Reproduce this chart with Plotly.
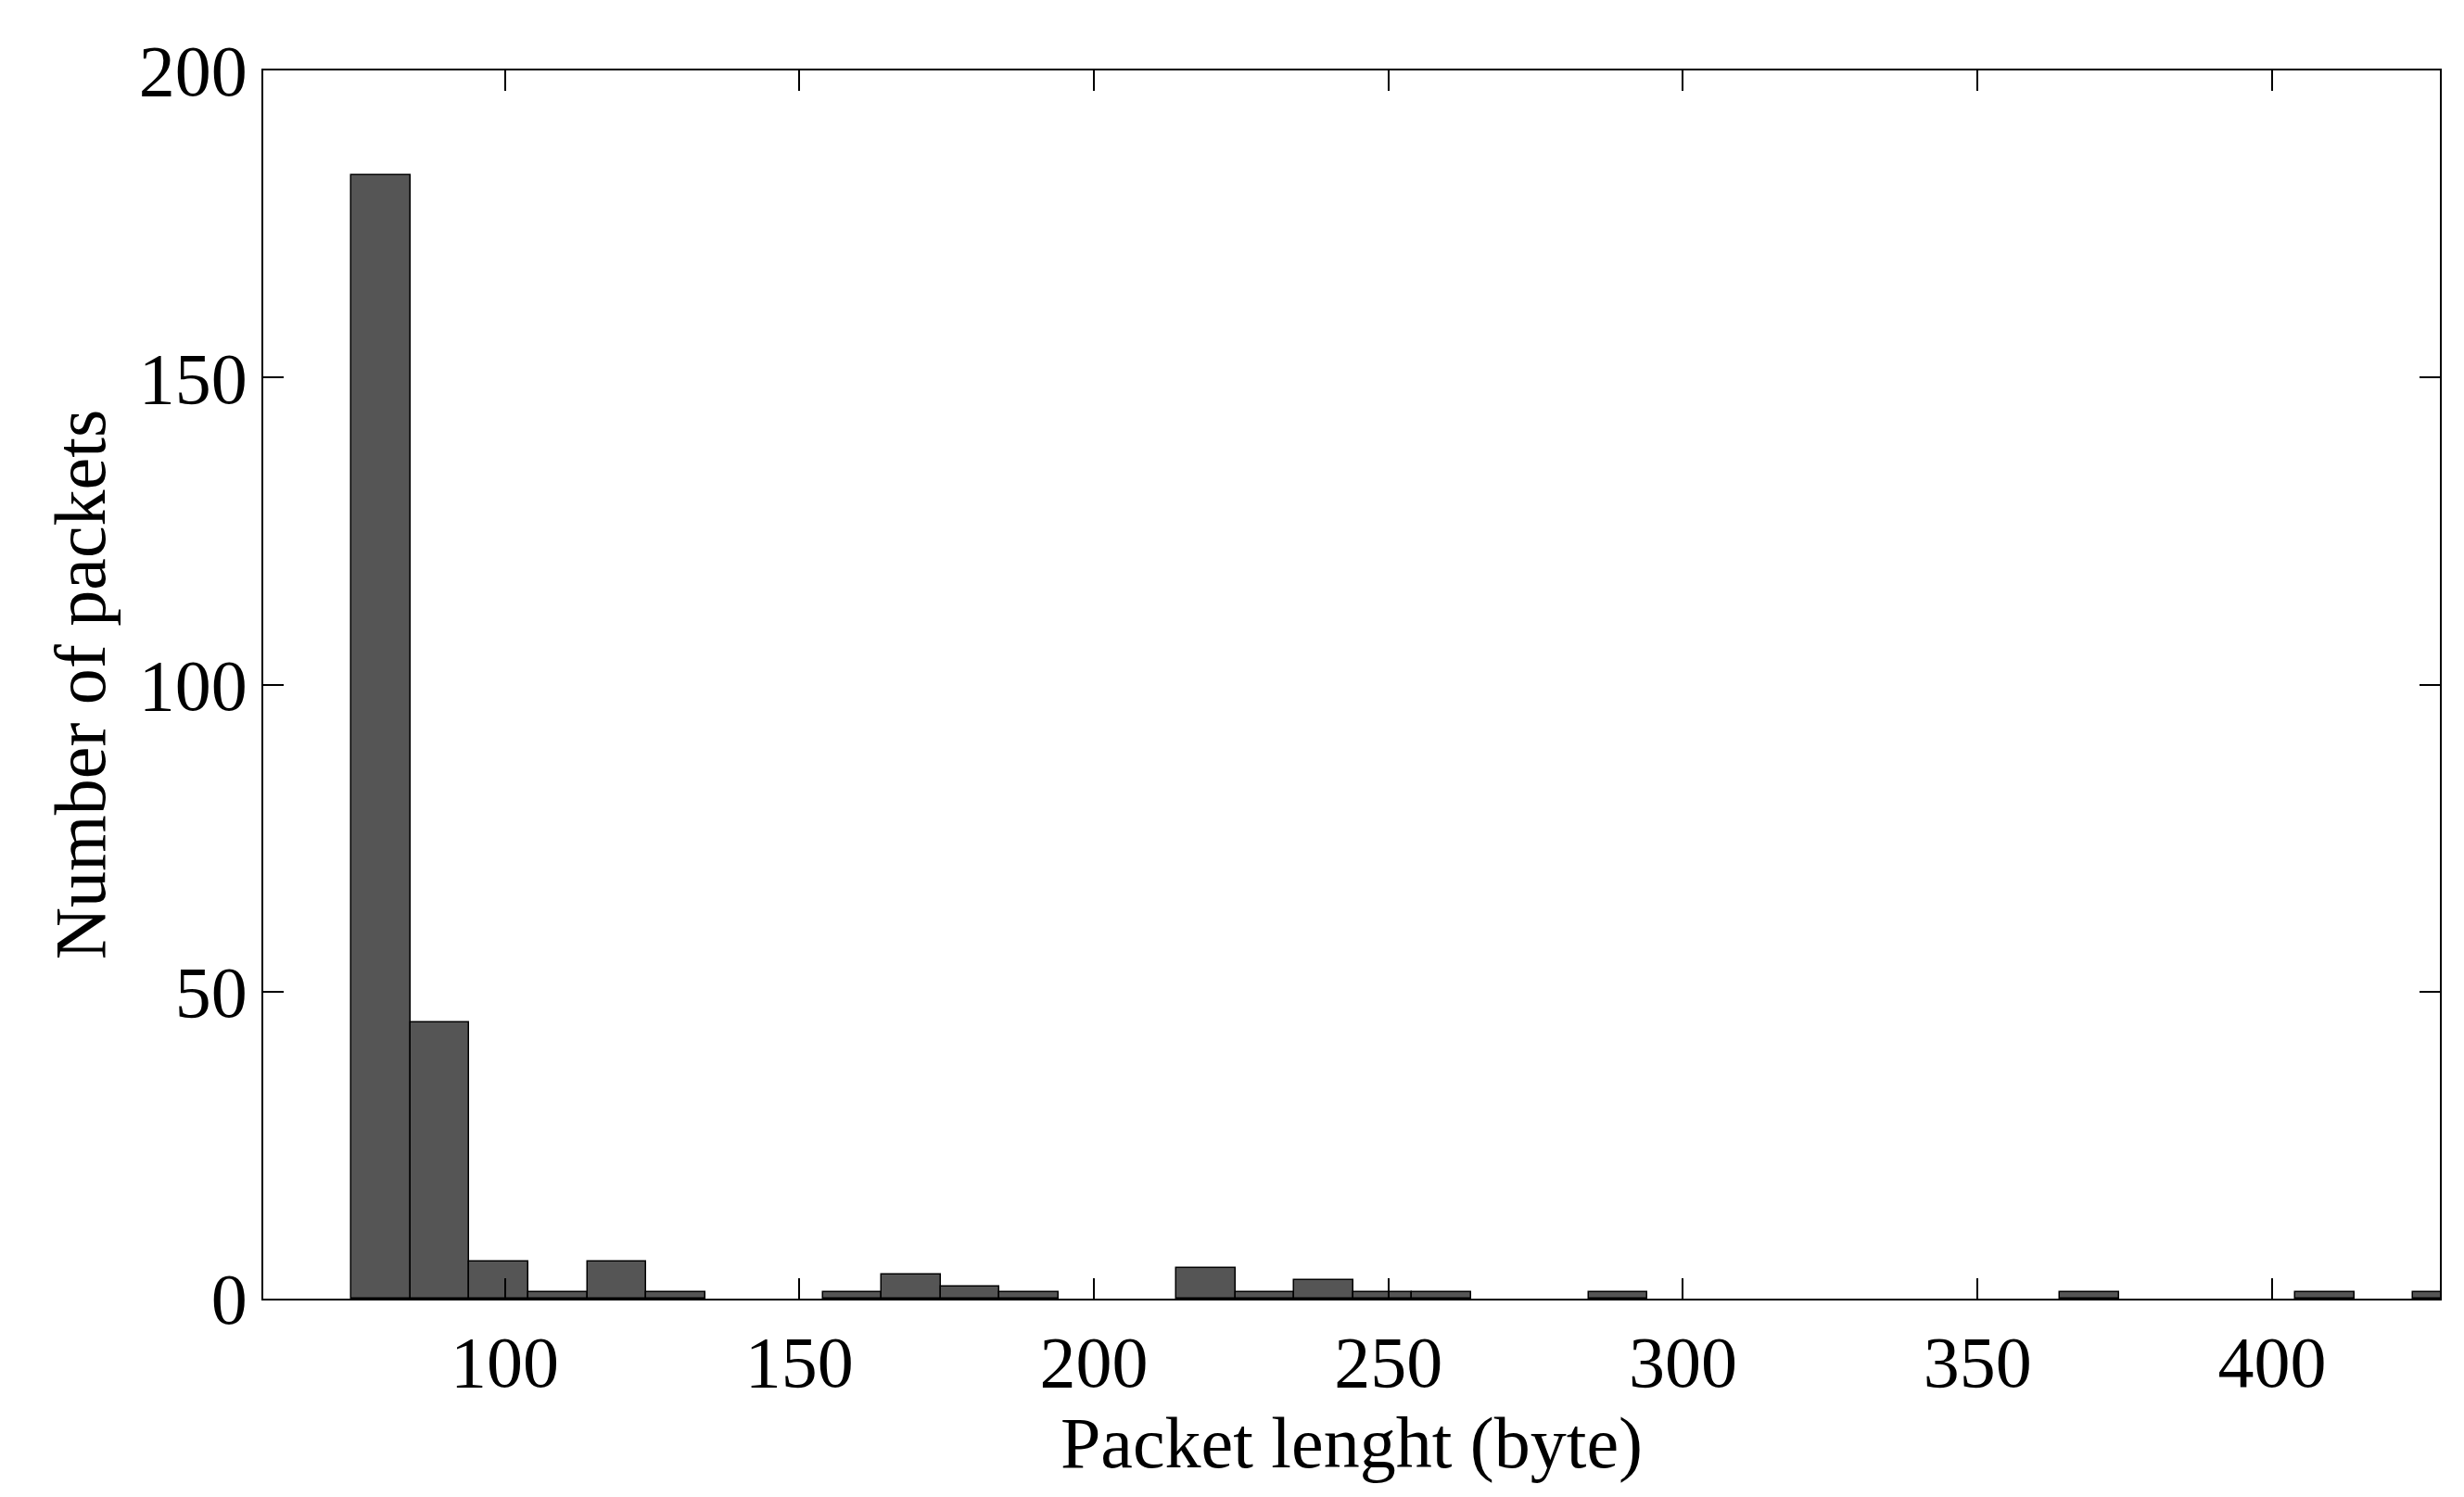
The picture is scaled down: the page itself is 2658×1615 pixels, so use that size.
import plotly.graph_objects as go

# histogram bins (left edge of each 10-byte bin) and counts
bin_left = [74, 84, 94, 104, 114, 124, 154, 164, 174, 184, 214, 224, 234, 244, 254, 284, 364, 404, 424]
counts = [183, 45, 6, 1, 6, 1, 1, 4, 2, 1, 5, 1, 3, 1, 1, 1, 1, 1, 1]
bin_width = 10

centers = [b + bin_width / 2 for b in bin_left]

fig = go.Figure()
fig.add_trace(go.Bar(
    x=centers, y=counts, width=bin_width,
    marker=dict(color='#555555', line=dict(color='#000000', width=1.5)),
    showlegend=False
))

axis_font = dict(family='Liberation Serif', size=78, color='black')
fig.update_layout(
    width=2658, height=1615,
    paper_bgcolor='white', plot_bgcolor='white',
    margin=dict(l=276, r=34, t=68, b=222),
    bargap=0,
    font=axis_font,
    xaxis=dict(
        range=[59, 428.5], tickvals=[100, 150, 200, 250, 300, 350, 400],
        ticks='inside', ticklen=22, tickwidth=1.5, tickcolor='black',
        showline=True, linecolor='black', linewidth=1.5, mirror='ticks',
        showgrid=False, zeroline=False,
        title=dict(text='Packet lenght (byte)', font=axis_font, standoff=0),
    ),
    yaxis=dict(
        range=[0, 200], tickvals=[0, 50, 100, 150, 200],
        ticks='inside', ticklen=22, tickwidth=1.5, tickcolor='black',
        showline=True, linecolor='black', linewidth=1.5, mirror='ticks',
        showgrid=False, zeroline=False,
        title=dict(text='Number of packets', font=axis_font, standoff=10),
    ),
)

fig.write_html("out.html")
